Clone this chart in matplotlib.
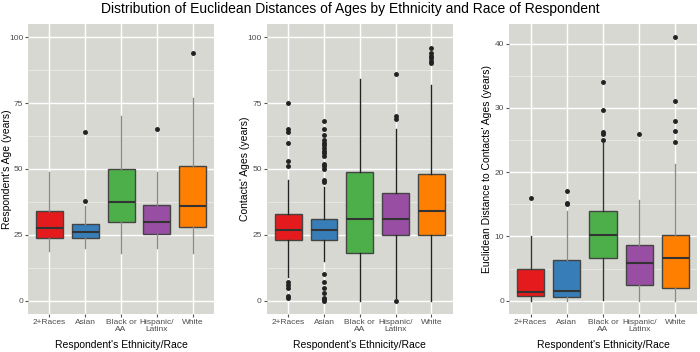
import matplotlib.pyplot as plt

plt.rcParams['font.family'] = ['Liberation Sans', 'DejaVu Sans']

groups = ['2+Races', 'Asian', 'Black or\nAA', 'Hispanic/\nLatinx', 'White']
colors = ['#E41A1C', '#377EB8', '#4DAF4A', '#984EA3', '#FF7F00']

# (whislo, q1, med, q3, whishi) per group
resp_stats = [(19, 24, 27.5, 34, 49), (20, 24, 26, 29, 36), (18, 30, 37.5, 50, 70),
              (20, 25.5, 30, 36.5, 49), (18, 28, 36, 51, 77)]
resp_fliers = [[], [38, 64], [], [65], [94]]

cont_stats = [(9, 23, 27, 33, 46), (15, 23, 27, 31, 43), (0, 18, 31, 49, 84),
              (1, 25, 31, 41, 65), (0, 25, 34, 48, 82)]
cont_fliers = [[1, 2, 5, 6, 7, 51, 53, 60, 64, 65, 75],
               [0, 0.5, 1, 3, 5, 7, 10, 45, 46, 50, 51, 52, 55, 56, 57, 58, 59, 60, 61, 63, 65, 68],
               [], [0, 69, 70, 86], [90, 91, 92, 93, 94, 96]]

dist_stats = [(0, 0.8, 1.3, 5, 10), (0, 0.6, 1.5, 6.3, 14), (0.2, 6.7, 10.3, 14, 24.5),
              (0, 2.4, 5.8, 8.7, 15.6), (0, 2, 6.6, 10.2, 21.2)]
dist_fliers = [[16], [15, 15.2, 17.1], [25, 26, 26.3, 29.7, 34], [26], [24.7, 26.4, 28, 31, 41]]

panels = [
    (resp_stats, resp_fliers, "Respondent's Age (years)", (-5, 105), [0, 25, 50, 75, 100],
     ['#8a8a8a'] * 5),
    (cont_stats, cont_fliers, "Contacts' Ages (years)", (-5, 105), [0, 25, 50, 75, 100],
     ['#222222'] * 5),
    (dist_stats, dist_fliers, "Euclidean Distance to Contacts' Ages (years)", (-2.05, 43.05),
     [0, 10, 20, 30, 40], ['#333333', '#8a8a8a', '#333333', '#8a8a8a', '#8a8a8a']),
]
lefts = [0.040, 0.381, 0.727]
widths = [0.266, 0.266, 0.269]
ylab_x = [-0.115, -0.118, -0.117]

fig = plt.figure(figsize=(7, 3.52), dpi=100)
fig.text(0.5, 0.975, 'Distribution of Euclidean Distances of Ages by Ethnicity and Race of Respondent',
         ha='center', va='center', fontsize=10)

for i, (stats, fliers, ylab, ylim, yt, wcols) in enumerate(panels):
    ax = fig.add_axes([lefts[i], 0.108, widths[i], 0.824])
    ax.set_facecolor('#D8D8D3')
    for s in ax.spines.values():
        s.set_visible(False)
    # grid
    for y in yt:
        ax.axhline(y, color='white', lw=1.0, zorder=0)
    for a, b in zip(yt[:-1], yt[1:]):
        ax.axhline((a + b) / 2, color='#EDEDEA', lw=0.5, zorder=0)
    for x in range(1, 6):
        ax.axvline(x, color='white', lw=1.0, zorder=0)
    for j in range(5):
        st = stats[j]
        b = dict(whislo=st[0], q1=st[1], med=st[2], q3=st[3], whishi=st[4], fliers=fliers[j])
        ax.bxp([b], positions=[j + 1], widths=0.75, patch_artist=True, showcaps=False,
               boxprops=dict(facecolor=colors[j], edgecolor='#444444', lw=1.0),
               medianprops=dict(color='#333333', lw=1.5),
               whiskerprops=dict(color=wcols[j], lw=1.0),
               flierprops=dict(marker='o', markersize=2.5, markerfacecolor='#222222',
                               markeredgecolor='#222222'),
               zorder=2)
    ax.set_xlim(0.4, 5.6)
    ax.set_ylim(*ylim)
    ax.set_yticks(yt)
    ax.set_xticks(range(1, 6))
    ax.set_xticklabels(groups, linespacing=1.0)
    ax.tick_params(axis='both', length=2, color='#555555', labelsize=6, labelcolor='#4d4d4d', pad=1.5)
    ax.set_ylabel(ylab, fontsize=7.5)
    ax.yaxis.set_label_coords(ylab_x[i], 0.5)
    ax.set_xlabel("Respondent's Ethnicity/Race", fontsize=7.5)
    ax.xaxis.set_label_coords(0.5, -0.107)
    ax.xaxis.label.set_va('center')
    ax.yaxis.label.set_va('center')

fig.savefig('out.png', dpi=100)
